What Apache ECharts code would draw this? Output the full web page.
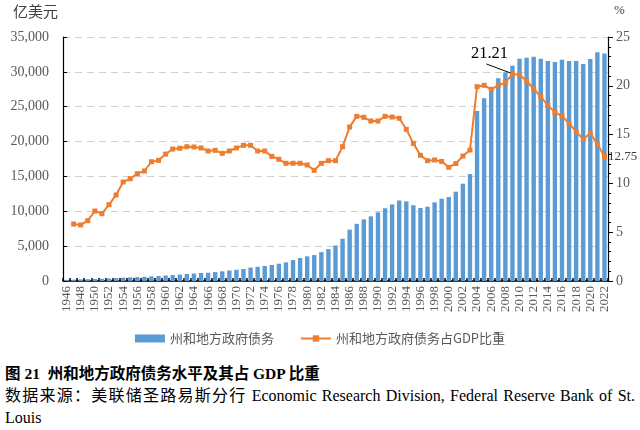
<!DOCTYPE html>
<html>
<head>
<meta charset="utf-8">
<script src="https://cdn.jsdelivr.net/npm/echarts@6/dist/echarts.min.js"></script>
<style>
html,body{margin:0;padding:0;background:#fff;width:640px;height:430px;overflow:hidden;}
#chart{position:absolute;left:0;top:0;width:640px;height:355px;}
#cap{position:absolute;left:5px;top:363px;width:630px;font-family:"Liberation Serif","Noto Sans CJK SC",serif;color:#000;}
#t1{font-size:15.5px;font-weight:bold;line-height:22px;}
#t2{font-size:16px;line-height:22px;text-align:justify;}
</style>
</head>
<body>
<div id="chart"></div>
<div id="cap">
<div id="t1">图 21&nbsp; 州和地方政府债务水平及其占 GDP 比重</div>
<div id="t2">数据来源：美联储圣路易斯分行 Economic Research Division, Federal Reserve Bank of St. Louis</div>
</div>
<script>
var years = [];
for (var y = 1946; y <= 2022; y++) years.push(String(y));

var debt = [160,190,230,260,290,320,360,410,470,520,560,610,660,720,790,850,920,1000,1070,1150,
1180,1280,1390,1510,1610,1720,1930,2040,2150,2300,2480,2680,3000,3290,3530,3720,4140,4570,5090,6070,
7360,8200,8840,9270,9850,10440,10990,11550,11420,10870,10470,10660,11280,11810,12050,12810,13960,15340,24380,26200,
27290,29070,29930,30870,31880,32020,32170,31880,31550,31400,31730,31550,31550,31120,31840,32800,32650];

var ratio = [null,5.84,5.74,6.18,7.17,6.9,7.82,8.81,10.14,10.48,11.0,11.27,12.22,12.36,13.0,13.52,13.6,13.76,13.73,13.63,
13.32,13.39,13.08,13.32,13.63,13.9,13.9,13.32,13.32,12.77,12.47,12.06,12.06,12.06,11.89,11.34,12.06,12.33,12.33,13.76,
15.78,16.87,16.77,16.39,16.39,16.87,16.8,16.67,15.54,14.1,12.88,12.33,12.4,12.25,11.65,12.04,12.8,13.42,19.91,20.05,
19.64,20.05,20.32,21.21,21.12,20.49,19.7,18.88,18.0,17.28,16.9,16.15,15.3,14.52,15.13,14.04,12.75];

var leftTicks = [0,5000,10000,15000,20000,25000,30000,35000];
var rightTicks = [0,5,10,15,20,25];
var seriesNames = ['州和地方政府债务','州和地方政府债务占GDP比重'];
var peakIdx = years.indexOf('2009');
var lastIdx = years.indexOf('2022');

var lineData = ratio.map(function(v, i){
  if (i === lastIdx) {
    return {value: v, label: {show: true, formatter: String(v), position: 'right', distance: 1, fontSize: 13, color: '#404040', fontFamily: 'Liberation Serif'}};
  }
  return v;
});

var chart = echarts.init(document.getElementById('chart'));
var axisFont = {fontFamily: 'Liberation Serif', fontSize: 14, color: '#595959'};
chart.setOption({
  animation: false,
  grid: {left: 63, right: 32, top: 37, bottom: 74, containLabel: false},
  legend: {
    bottom: 5, left: 'center', itemGap: 26, itemWidth: 30, itemHeight: 8,
    textStyle: {fontFamily: 'Noto Sans CJK SC', fontSize: 13, color: '#595959'},
    data: [{name: seriesNames[0], icon: 'rect'}, {name: seriesNames[1]}]
  },
  xAxis: {
    type: 'category', data: years, boundaryGap: true,
    axisLine: {lineStyle: {color: '#000', width: 1.5}},
    axisTick: {show: true, inside: true, interval: 0, length: 3, lineStyle: {color: '#000', width: 1.5}},
    axisLabel: {interval: 1, rotate: 90, fontFamily: 'Liberation Serif', fontSize: 13, color: '#595959', margin: 5}
  },
  yAxis: [{
    type: 'value', min: 0, max: 35000, interval: 5000,
    axisLine: {show: true, lineStyle: {color: '#000', width: 1.2}},
    axisTick: {show: true, inside: true, length: 4, lineStyle: {color: '#000'}},
    axisLabel: Object.assign({margin: 14, formatter: function(v){ return v.toLocaleString('en-US'); }}, axisFont),
    splitLine: {show: true, lineStyle: {color: '#d0d0d0', type: [7, 5], width: 1}}
  }, {
    type: 'value', min: 0, max: 25, interval: 5,
    axisLine: {show: true, lineStyle: {color: '#000', width: 1.2}},
    axisTick: {show: true, length: 5, lineStyle: {color: '#000'}},
    minorTick: {show: true, splitNumber: 5, length: 3, lineStyle: {color: '#000'}},
    axisLabel: Object.assign({margin: 8}, axisFont),
    splitLine: {show: false}
  }],
  series: [{
    name: seriesNames[0], type: 'bar', yAxisIndex: 0, data: debt,
    barWidth: '62%', itemStyle: {color: '#5B9BD5'}
  }, {
    name: seriesNames[1], type: 'line', yAxisIndex: 1, data: lineData,
    symbol: 'rect', symbolSize: 5, showAllSymbol: true,
    lineStyle: {color: '#ED7D31', width: 2}, itemStyle: {color: '#ED7D31'}
  }]
});

var pt = chart.convertToPixel({xAxisIndex: 0, yAxisIndex: 1}, [years[peakIdx], ratio[peakIdx]]);
chart.setOption({
  graphic: [
    {type: 'text', left: 13, top: 4, style: {text: '亿美元', font: '15px "Noto Sans CJK SC"', fill: '#404040'}},
    {type: 'text', left: 614, top: 4, style: {text: '%', font: '13px "Liberation Serif"', fill: '#404040'}},
    {type: 'line', shape: {x1: pt[0] - 26, y1: pt[1] - 10, x2: pt[0] - 2, y2: pt[1] - 1}, style: {stroke: '#000', lineWidth: 1}, z: 20},
    {type: 'text', x: pt[0] - 23, y: pt[1] - 20, style: {text: String(ratio[peakIdx]), font: '16.5px "Liberation Serif"', fill: '#000', align: 'center', verticalAlign: 'middle'}, z: 20}
  ]
});
</script>
</body>
</html>
